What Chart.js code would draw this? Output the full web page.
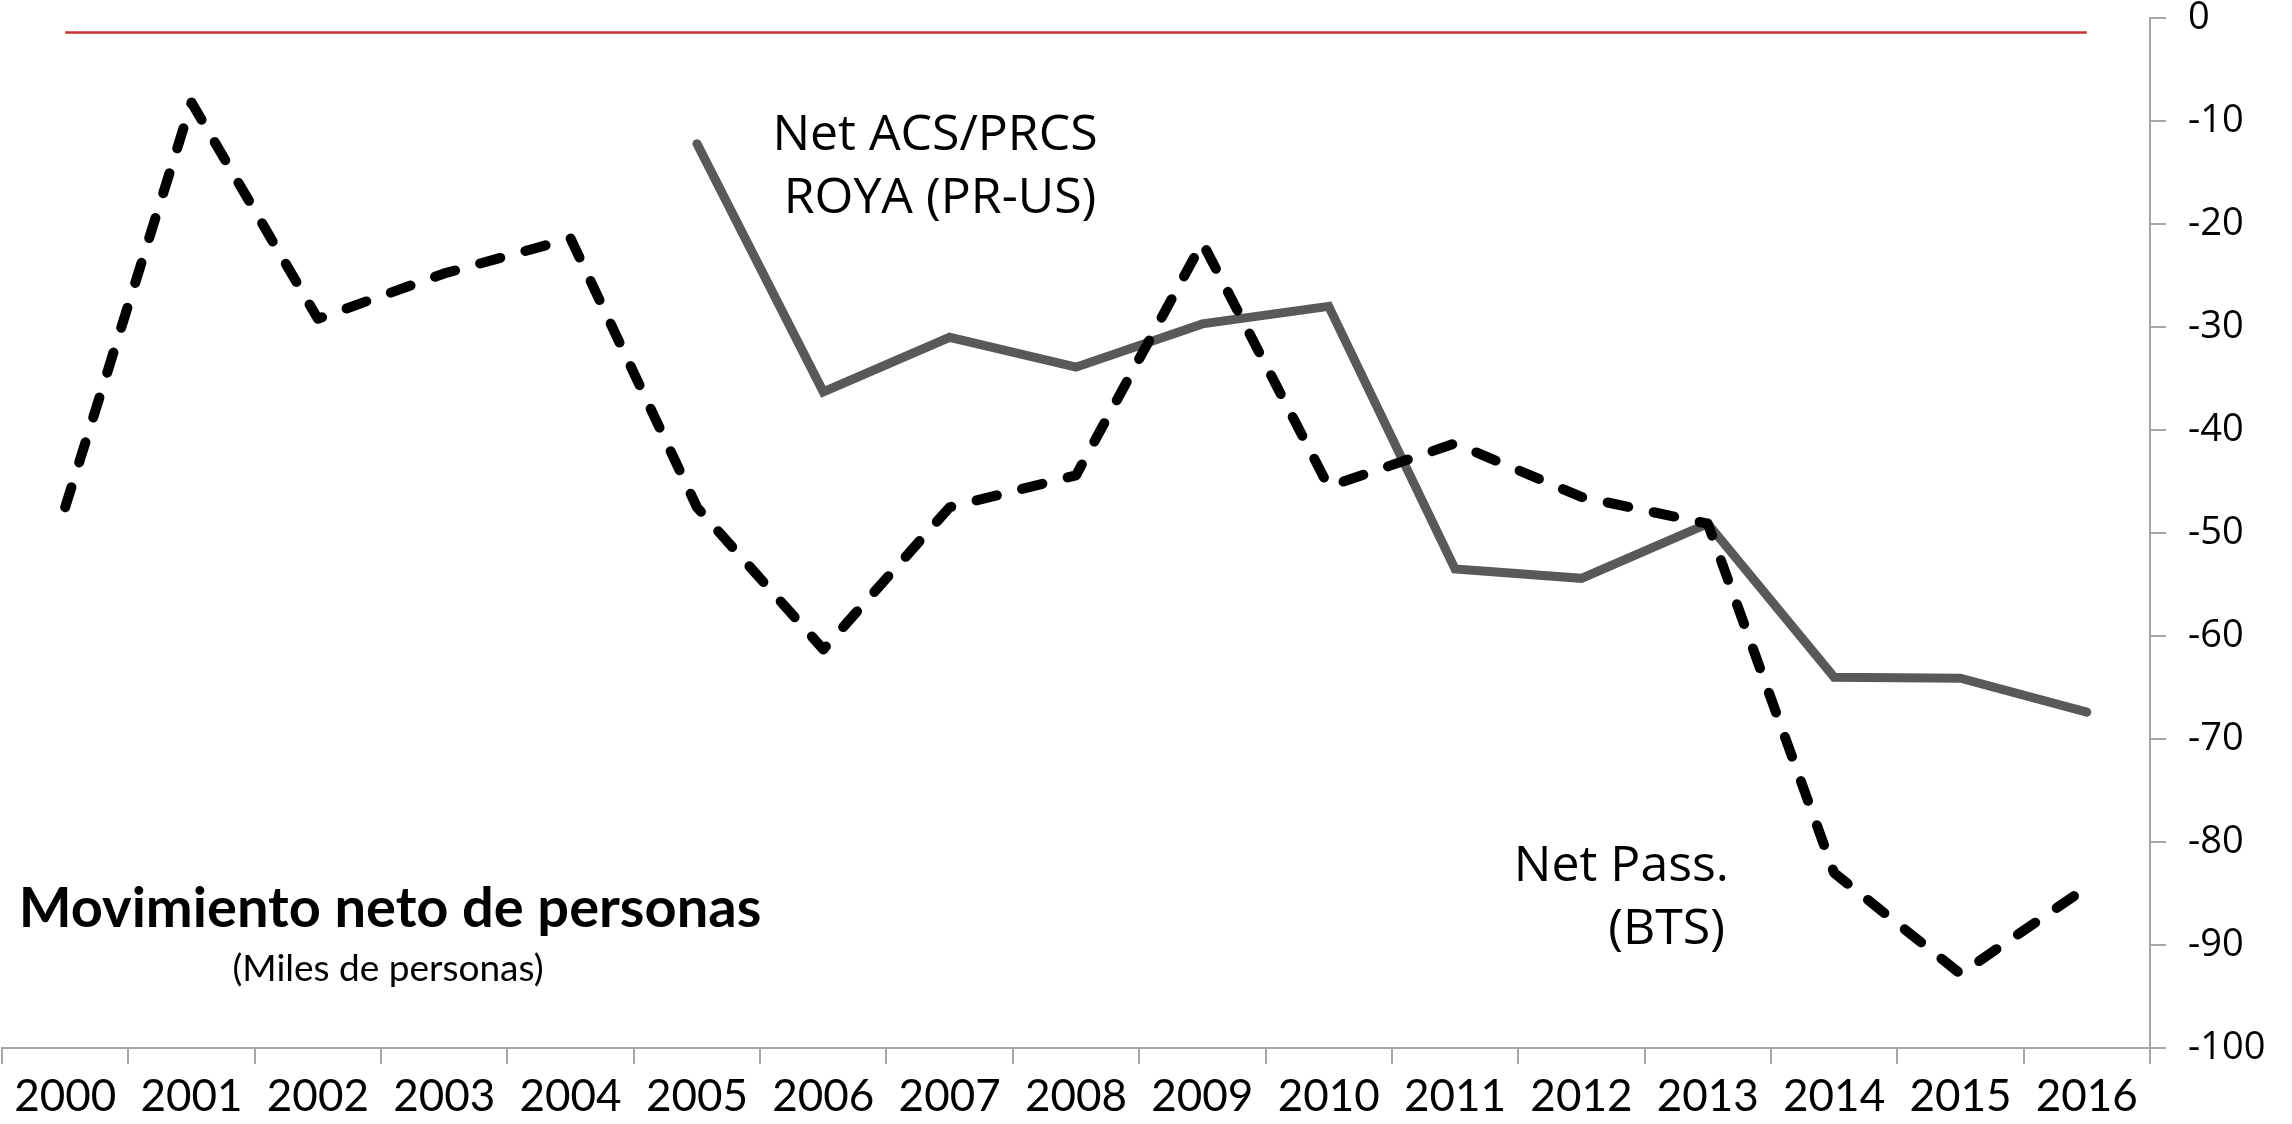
<!DOCTYPE html>
<html>
<head>
<meta charset="utf-8">
<script src="https://cdn.jsdelivr.net/npm/chart.js@4.4.1/dist/chart.umd.min.js"></script>
<style>
  body { margin: 0; background: #ffffff; }
  canvas { display: block; }
</style>
</head>
<body>
<canvas id="movimiento-chart" width="2292" height="1124"></canvas>
<script>
// Datos (miles de personas)
var years = ['2000', '2001', '2002', '2003', '2004', '2005', '2006', '2007', '2008',
             '2009', '2010', '2011', '2012', '2013', '2014', '2015', '2016'];

// Net Pass. (BTS) - linea discontinua
var netPassBTS = [-47.5, -8.2, -29.2, -24.8, -21.4, -47.5, -61.3, -47.5, -44.4,
                  -21.8, -45.5, -41.3, -46.5, -49.1, -83.0, -92.8, -84.4];

// Net ACS/PRCS ROYA (PR-US) - linea continua
var netAcsPrcs = [null, null, null, null, null, -12.2, -36.3, -31.0, -33.9,
                  -29.7, -28.0, -53.5, -54.4, -49.1, -64.0, -64.1, -67.4];

// Linea roja de referencia cerca de cero
var refLine = [-1.4, -1.4, -1.4, -1.4, -1.4, -1.4, -1.4, -1.4, -1.4,
               -1.4, -1.4, -1.4, -1.4, -1.4, -1.4, -1.4, -1.4];

var yTicks = [0, -10, -20, -30, -40, -50, -60, -70, -80, -90, -100];

var axisColor = '#a6a6a6';

/**
 * Textos dentro del grafico (etiquetas de series y titulo)
 */
var chartTexts = {
    id: 'chartTexts',
    afterDraw: function(chart) {
        var ctx = chart.ctx;
        ctx.save();
        ctx.fillStyle = '#000000';
        ctx.textBaseline = 'middle';

        // Etiqueta de la serie ACS/PRCS
        ctx.font = '50px "Open Sans"';
        ctx.textAlign = 'center';
        ctx.fillText('Net ACS/PRCS', 935, 136);
        ctx.fillText('ROYA (PR-US)', 940, 199);

        // Etiqueta de la serie BTS
        ctx.textAlign = 'right';
        ctx.fillText('Net Pass.', 1729, 867);
        ctx.fillText('(BTS)', 1725, 930);

        // Titulo
        ctx.textAlign = 'center';
        ctx.font = 'bold 56px Lato';
        ctx.fillText('Movimiento neto de personas', 390, 909);
        ctx.font = '37px Lato';
        ctx.fillText('(Miles de personas)', 388, 969);

        ctx.restore();
    }
};

var whiteBackground = {
    id: 'whiteBackground',
    beforeDraw: function(chart) {
        var ctx = chart.ctx;
        ctx.save();
        ctx.fillStyle = '#ffffff';
        ctx.fillRect(0, 0, chart.width, chart.height);
        ctx.restore();
    }
};

var ctx = document.getElementById('movimiento-chart').getContext('2d');

new Chart(ctx, {
    type: 'line',
    data: {
        labels: years,
        datasets: [
            {
                label: 'Net Pass. (BTS)',
                data: netPassBTS,
                borderColor: '#000000',
                borderWidth: 10,
                borderDash: [21, 26],
                borderCapStyle: 'round',
                borderJoinStyle: 'round',
                pointRadius: 0,
                tension: 0,
                order: 0
            },
            {
                label: 'Net ACS/PRCS ROYA (PR-US)',
                data: netAcsPrcs,
                borderColor: '#595959',
                borderWidth: 9,
                borderCapStyle: 'round',
                borderJoinStyle: 'miter',
                pointRadius: 0,
                tension: 0,
                order: 1
            },
            {
                label: 'ref',
                data: refLine,
                borderColor: '#c8302f',
                borderWidth: 2.5,
                pointRadius: 0,
                tension: 0,
                order: 2
            }
        ]
    },
    options: {
        responsive: false,
        animation: false,
        devicePixelRatio: 1,
        layout: {
            padding: { top: 18, left: 2, right: 0, bottom: 0 }
        },
        plugins: {
            legend: { display: false },
            tooltip: { enabled: false }
        },
        scales: {
            x: {
                type: 'category',
                offset: true,
                grid: {
                    offset: true,
                    drawOnChartArea: false,
                    drawTicks: true,
                    tickLength: 16,
                    color: axisColor,
                    lineWidth: 2
                },
                border: { color: axisColor, width: 2 },
                ticks: {
                    color: '#000000',
                    padding: 6,
                    maxRotation: 0,
                    autoSkip: false,
                    font: { family: 'Lato', size: 44 }
                },
                afterFit: function(scale) {
                    scale.height = 76;
                    scale.paddingLeft = 0;
                    scale.paddingRight = 0;
                }
            },
            y: {
                position: 'right',
                min: -100,
                max: 0,
                afterBuildTicks: function(scale) {
                    scale.ticks = yTicks.map(function(v) { return { value: v }; });
                },
                grid: {
                    drawOnChartArea: false,
                    drawTicks: true,
                    tickLength: 16,
                    color: axisColor,
                    lineWidth: 2
                },
                border: { color: axisColor, width: 2 },
                ticks: {
                    color: '#000000',
                    padding: 22,
                    font: { family: '"Open Sans"', size: 38 }
                },
                afterFit: function(scale) {
                    scale.width = 142;
                    scale.paddingTop = 0;
                    scale.paddingBottom = 0;
                }
            }
        }
    },
    plugins: [whiteBackground, chartTexts]
});
</script>
</body>
</html>
